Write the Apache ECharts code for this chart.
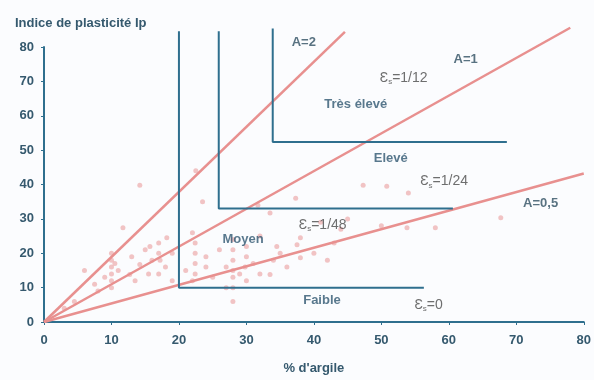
<!DOCTYPE html>
<html>
<head>
<meta charset="utf-8">
<script src="https://cdn.jsdelivr.net/npm/echarts@6/dist/echarts.min.js"></script>
<style>
  html, body { margin: 0; padding: 0; background: #fbfcfe; }
  #chart { width: 594px; height: 380px; }
</style>
</head>
<body>
<div id="chart"></div>
<script>
// Data
var clayPct = [3, 4.5, 6, 7.5, 8, 9, 10, 10, 10, 10, 10, 10, 10.5, 11, 11.7, 12.7, 13, 13.5,
    14.2, 14.2, 15, 15.7, 15.5, 16, 17, 17.2, 17, 17, 18, 18.2, 19, 19,
    21, 22, 22.4, 22.4, 22.4, 22.4, 22, 23.5, 24, 24, 25, 26, 27, 27,
    28, 28, 28, 28, 28, 28, 28, 29, 29.8, 30, 30, 30, 31, 31.7, 32, 32,
    33.5, 33.5, 34.5, 34, 35, 36, 37.5, 37.3, 38, 38, 40, 41, 42, 43, 44, 45,
    47.3, 50, 50.8, 53.8, 54, 58, 67.7, 22.5];
var ipValues = [4, 6, 15, 11, 9, 13, 10, 12, 14, 16, 18, 20, 17, 15, 27.4, 13.8, 19, 12,
    39.8, 16.7, 21, 22, 14, 18, 14, 18, 20, 23, 16, 24.5, 20, 12,
    15, 12, 14, 17, 20, 23, 26, 35, 16, 19, 13, 21, 16, 10,
    6, 10, 13, 15, 18, 21, 24, 14, 16, 12, 19, 22, 17, 34, 25, 14,
    13.8, 31.7, 22, 18, 20, 16, 22.5, 36, 24.5, 18.7, 20, 29, 18, 23, 27, 30,
    39.8, 28, 39.5, 27.4, 37.5, 27.4, 30.3, 44];

// Activity lines (A = Ip / % argile)
var lineA2 = [[0, 0], [44.6, 84.4]];
var lineA1 = [[0, 0], [78, 85.6]];
var lineA05 = [[0, 0], [80, 43.2]];

// Class boundaries (swelling potential)
var stepFaible = [[20, 84.6], [20, 10], [56.3, 10]];
var stepMoyen = [[25.9, 84.6], [25.9, 33], [60.6, 33]];
var stepEleve = [[33.9, 85.4], [33.9, 52.4], [68.6, 52.4]];

// Annotations [x, y, text, kind]
var notes = [
    [38.5, 81.2, 'A=2', 'a'],
    [62.5, 76.3, 'A=1', 'a'],
    [73.6, 34.5, 'A=0,5', 'a'],
    [53.3, 71, '1/12', 'e'],
    [59.3, 40.9, '1/24', 'e'],
    [41.3, 28.2, '1/48', 'e'],
    [57, 4.9, '0', 'e'],
    [46.2, 63.3, 'Très élevé', 'c'],
    [51.4, 47.5, 'Elevé', 'c'],
    [29.5, 23.9, 'Moyen', 'c'],
    [41.2, 6.3, 'Faible', 'c']
];

var teal = '#2f6f8e';
var pink = '#e8908f';
var textCol = '#35596e';

var points = clayPct.map(function (x, i) { return [x, ipValues[i]]; });
var noteData = notes.map(function (n) { return { value: [n[0], n[1]], name: n[2], kind: n[3] }; });

var myChart = echarts.init(document.getElementById('chart'));

function lineSeries(data, color, width) {
    return {
        type: 'line',
        data: data,
        clip: false,
        symbol: 'none',
        silent: true,
        lineStyle: { color: color, width: width },
        z: 3
    };
}

var option = {
    backgroundColor: '#fbfcfe',
    animation: false,
    textStyle: { fontFamily: 'Liberation Sans, Arial, sans-serif' },
    title: {
        text: 'Indice de plasticité Ip',
        left: 10,
        top: 12,
        textStyle: { fontSize: 13, fontWeight: 'bold', color: textCol }
    },
    grid: { left: 44, right: 10, top: 47, bottom: 55 },
    xAxis: {
        type: 'value',
        min: 0, max: 80, interval: 10,
        name: "% d'argile",
        nameLocation: 'middle',
        nameGap: 40,
        nameTextStyle: { fontSize: 13, fontWeight: 'bold', color: textCol },
        axisLine: { lineStyle: { color: teal, width: 2 } },
        axisTick: { show: true, length: 3, lineStyle: { color: teal } },
        axisLabel: { fontSize: 13, fontWeight: 'bold', color: textCol, margin: 12 },
        splitLine: { show: false }
    },
    yAxis: {
        type: 'value',
        min: 0, max: 80, interval: 10,
        axisLine: { show: true, lineStyle: { color: teal, width: 2 } },
        axisTick: { show: true, length: 3, lineStyle: { color: teal } },
        axisLabel: { fontSize: 13, fontWeight: 'bold', color: textCol, margin: 10 },
        splitLine: { show: false }
    },
    series: [
        {
            type: 'scatter',
            data: points,
            symbol: 'circle',
            symbolSize: 5,
            itemStyle: { color: '#e57f7f', opacity: 0.45 },
            z: 2
        },
        lineSeries(lineA2, pink, 2.5),
        lineSeries(lineA1, pink, 2.5),
        lineSeries(lineA05, pink, 2.5),
        lineSeries(stepFaible, teal, 2),
        lineSeries(stepMoyen, teal, 2),
        lineSeries(stepEleve, teal, 2),
        {
            type: 'scatter',
            data: noteData,
            symbolSize: 0,
            silent: true,
            clip: false,
            z: 5,
            label: {
                show: true,
                position: 'inside',
                formatter: function (p) {
                    if (p.data.kind === 'e') return '{e|Ɛ}{s|s}{e|=' + p.name + '}';
                    return '{' + p.data.kind + '|' + p.name + '}';
                },
                rich: {
                    a: { fontSize: 13, fontWeight: 'bold', color: '#2f4f62' },
                    c: { fontSize: 13, fontWeight: 'bold', color: '#2f5670' },
                    e: { fontSize: 14, color: '#4a4a4a' },
                    s: { fontSize: 8, color: '#4a4a4a', padding: [8, 0, 0, 0] }
                }
            }
        }
    ]
};
myChart.setOption(option);
</script>
</body>
</html>
